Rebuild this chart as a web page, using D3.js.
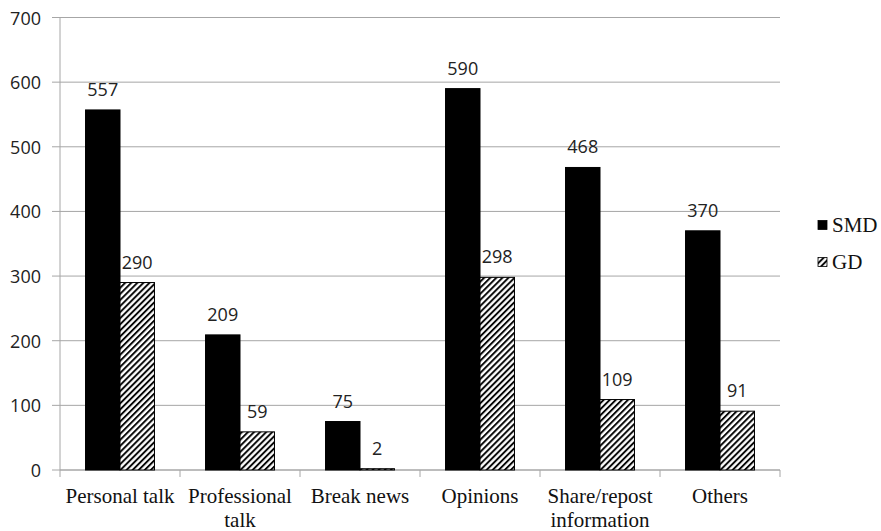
<!DOCTYPE html>
<html>
<head>
<meta charset="utf-8">
<script src="https://cdn.jsdelivr.net/npm/d3@7/dist/d3.min.js"></script>
<style>
  html, body { margin: 0; padding: 0; background: #fff; }
  svg { display: block; }
</style>
</head>
<body>
<svg id="chart" width="881" height="531"></svg>
<script>
// Message categories (multi-line labels split on "\n")
const categories = ["Personal talk", "Professional\ntalk", "Break news", "Opinions", "Share/repost\ninformation", "Others"];
const seriesNames = ["SMD", "GD"];
const smdValues = [557, 209, 75, 590, 468, 370];
const gdValues = [290, 59, 2, 298, 109, 91];
const yTicks = [0, 100, 200, 300, 400, 500, 600, 700];

const svg = d3.select("#chart");
const margin = { left: 60, right: 101, top: 17.5, bottom: 61 };
const W = 881, H = 531;
const x0 = margin.left, x1 = W - margin.right;
const yTop = margin.top, yBot = H - margin.bottom;

const x = d3.scaleBand().domain(categories).range([x0, x1]).paddingInner(0).paddingOuter(0);
const xs = d3.scaleBand().domain(seriesNames).range([0, x.bandwidth()]).paddingInner(0).paddingOuter(0.74);
const y = d3.scaleLinear().domain([0, 700]).range([yBot, yTop]);

// diagonal hatch pattern
const defs = svg.append("defs");
const hs = 4.3;
const pat = defs.append("pattern")
  .attr("id", "hatch")
  .attr("patternUnits", "userSpaceOnUse")
  .attr("width", hs).attr("height", hs)
  .attr("patternTransform", "rotate(45)");
pat.append("rect").attr("width", hs).attr("height", hs).attr("fill", "#fff");
pat.append("line").attr("x1", 1).attr("y1", 0).attr("x2", 1).attr("y2", hs)
  .attr("stroke", "#000").attr("stroke-width", 1.9);

const fillFor = s => s === "SMD" ? "#000" : "url(#hatch)";

// gridlines
svg.append("g").selectAll("line").data(yTicks).join("line")
  .attr("x1", x0 - 8).attr("x2", x1)
  .attr("y1", d => y(d)).attr("y2", d => y(d))
  .attr("stroke", "#a6a6a6").attr("stroke-width", 1);

// y axis line
svg.append("line").attr("x1", x0).attr("x2", x0).attr("y1", yTop).attr("y2", yBot)
  .attr("stroke", "#a6a6a6").attr("stroke-width", 1);

// y tick labels
svg.append("g").selectAll("text").data(yTicks).join("text")
  .attr("x", 41).attr("y", d => y(d))
  .attr("text-anchor", "end").attr("dominant-baseline", "central")
  .attr("font-family", "'Open Sans', sans-serif").attr("font-size", 18)
  .attr("fill", "#222")
  .text(d => d);

// x axis line and category ticks
svg.append("line").attr("x1", x0).attr("x2", x1).attr("y1", yBot).attr("y2", yBot)
  .attr("stroke", "#a6a6a6").attr("stroke-width", 1);
const boundaries = categories.map(c => x(c)).concat([x1]);
svg.append("g").selectAll("line").data(boundaries).join("line")
  .attr("x1", d => d).attr("x2", d => d).attr("y1", yBot).attr("y2", yBot + 7)
  .attr("stroke", "#a6a6a6").attr("stroke-width", 1);

// bars
const rows = categories.map((c, i) => ({ cat: c, values: [
  { s: "SMD", v: smdValues[i] }, { s: "GD", v: gdValues[i] }
] }));

const groups = svg.append("g").selectAll("g").data(rows).join("g")
  .attr("transform", d => `translate(${x(d.cat)},0)`);

groups.selectAll("rect").data(d => d.values).join("rect")
  .attr("x", d => xs(d.s)).attr("width", xs.bandwidth())
  .attr("y", d => y(d.v)).attr("height", d => y(0) - y(d.v))
  .attr("fill", d => fillFor(d.s))
  .attr("stroke", "#000").attr("stroke-width", 1);

groups.selectAll("text.val").data(d => d.values).join("text")
  .attr("class", "val")
  .attr("x", d => xs(d.s) + xs.bandwidth() / 2)
  .attr("y", d => y(d.v) - 14)
  .attr("text-anchor", "middle")
  .attr("font-family", "'Open Sans', sans-serif").attr("font-size", 18)
  .attr("fill", "#222")
  .text(d => d.v);

// category labels
const catLabels = svg.append("g").selectAll("text").data(categories).join("text")
  .attr("text-anchor", "middle")
  .attr("font-family", "'Liberation Serif', 'Times New Roman', serif").attr("font-size", 21)
  .attr("fill", "#111")
  .attr("transform", d => `translate(${x(d) + x.bandwidth() / 2},${yBot + 33})`);
catLabels.each(function (d) {
  d3.select(this).selectAll("tspan").data(d.split("\n")).join("tspan")
    .attr("x", 0).attr("dy", (t, i) => i === 0 ? 0 : 24).text(t => t);
});

// legend
const legend = svg.append("g").selectAll("g").data(seriesNames).join("g")
  .attr("transform", (d, i) => `translate(818,${225 + i * 37})`);
legend.append("rect").attr("x", 0).attr("y", -4.5).attr("width", 9).attr("height", 9)
  .attr("fill", d => fillFor(d)).attr("stroke", "#000").attr("stroke-width", 0.8);
legend.append("text").attr("x", 14).attr("y", 0).attr("dominant-baseline", "central")
  .attr("font-family", "'Liberation Serif', 'Times New Roman', serif").attr("font-size", 21)
  .attr("fill", "#111")
  .text(d => d);
</script>
</body>
</html>
